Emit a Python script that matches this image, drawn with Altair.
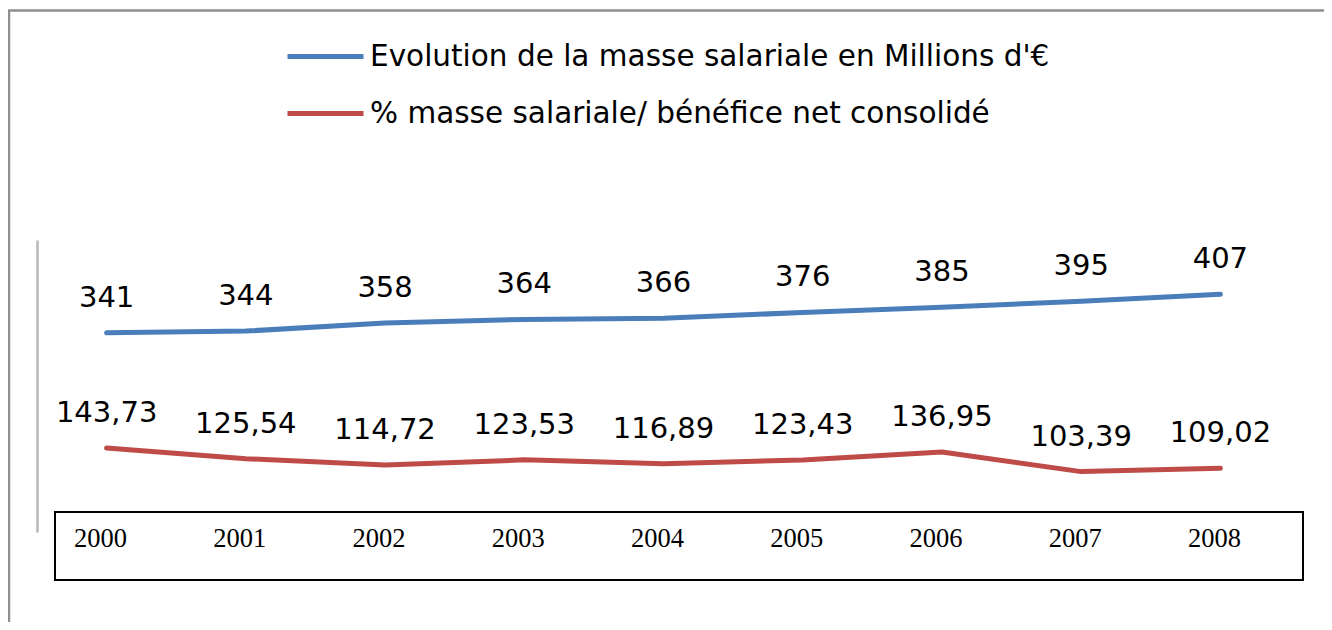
import altair as alt
import pandas as pd

years = ["2000", "2001", "2002", "2003", "2004", "2005", "2006", "2007", "2008"]
masse = [341, 344, 358, 364, 366, 376, 385, 395, 407]
pct = [143.73, 125.54, 114.72, 123.53, 116.89, 123.43, 136.95, 103.39, 109.02]
series_names = [
    "Evolution de la masse salariale en Millions d'€",
    "% masse salariale/ bénéfice net consolidé",
]
colors = ["#4A7EBB", "#BE4B48"]

rows = []
for y, v in zip(years, masse):
    rows.append({"year": y, "value": v, "serie": series_names[0], "label": str(v)})
for y, v in zip(years, pct):
    rows.append({"year": y, "value": v, "serie": series_names[1],
                 "label": f"{v:.2f}".replace(".", ",")})
df = pd.DataFrame(rows)
df_years = pd.DataFrame({"year": years})

W, H = 1253, 292

xenc = alt.X("year:O", sort=years, scale=alt.Scale(type="point", padding=0.5), axis=None)
yenc = alt.Y("value:Q", scale=alt.Scale(domain=[0, 500], nice=False, zero=True),
             axis=alt.Axis(labels=False, ticks=False, grid=False, title=None,
                           domainColor="#b8b8b8", domainWidth=2.5))

base = alt.Chart(df)

lines = base.mark_line(strokeWidth=5, strokeCap="round", strokeJoin="round").encode(
    x=xenc,
    y=yenc,
    color=alt.Color("serie:N", sort=series_names,
                    scale=alt.Scale(domain=series_names, range=colors),
                    legend=alt.Legend(orient="none", legendX=248, legendY=-224, title=None,
                                      symbolType="stroke", symbolSize=5776,
                                      symbolStrokeWidth=5, labelFont="DejaVu Sans",
                                      labelFontSize=29.5, labelColor="black",
                                      rowPadding=2, labelOffset=4, labelLimit=0)),
)

labels = base.mark_text(font="DejaVu Sans", fontSize=29, baseline="alphabetic",
                        align="center", dy=-26, color="black").encode(
    x=xenc, y=alt.Y("value:Q"), text="label:N"
)

frame_df = pd.DataFrame({"k": [0]})
frame = alt.Chart(frame_df).mark_rect(fillOpacity=0, stroke="#8f8f8f", strokeWidth=2.5).encode(
    x=alt.value(-28), x2=alt.value(1330), y=alt.value(-229.5), y2=alt.value(420)
)
box = alt.Chart(frame_df).mark_rect(fillOpacity=0, stroke="black", strokeWidth=2).encode(
    x=alt.value(18), x2=alt.value(1266), y=alt.value(272), y2=alt.value(340)
)
year_text = alt.Chart(df_years).mark_text(font="Liberation Serif", fontSize=26.5,
                                          baseline="alphabetic", align="center",
                                          dx=-6, color="black").encode(
    x=xenc, y=alt.value(307), text="year:N"
)

chart = alt.layer(frame, box, year_text, lines, labels).properties(
    width=W, height=H,
    padding={"left": 29, "top": 232, "right": 34, "bottom": 90},
    autosize=alt.AutoSizeParams(type="none"),
    background="white",
).configure_view(stroke=None)

chart.save("out.html", embed_options={"renderer": "svg", "actions": False})
